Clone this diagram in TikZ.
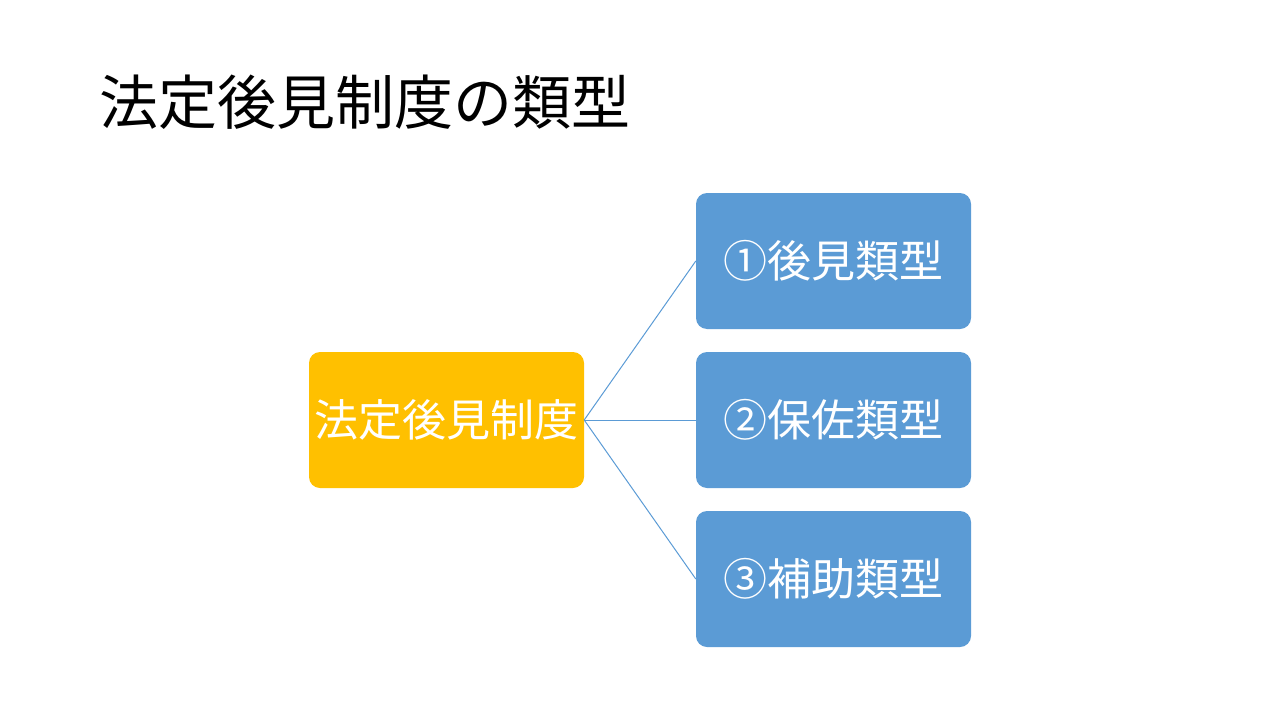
\documentclass[tikz,border=0pt]{standalone}
\usepackage{fontspec}
\setmainfont{Noto Sans CJK JP}
\usepackage{tikz}
\definecolor{boxblue}{RGB}{91,155,213}
\definecolor{boxorange}{RGB}{255,192,0}

\begin{document}
\begin{tikzpicture}[x=1pt,y=-1pt,
  typebox/.style={rounded corners=11pt,minimum width=275pt,minimum height=136pt,inner sep=0pt,text=white,font=\fontsize{44}{52}\selectfont}]
\useasboundingbox (0,0) rectangle (1280,720);
\node[anchor=base west,inner sep=0pt,font=\fontsize{59}{66}\selectfont] (title) at (99,124) {法定後見制度の類型};
\node[typebox,fill=boxorange] (seido) at (446.5,420) {法定後見制度};
\node[typebox,fill=boxblue] (kouken) at (833.5,261) {①後見類型};
\node[typebox,fill=boxblue] (hosa) at (833.5,420) {②保佐類型};
\node[typebox,fill=boxblue] (hojo) at (833.5,579) {③補助類型};
\draw[boxblue,line width=1pt] (seido.east)--(kouken.west);
\draw[boxblue,line width=1pt] (seido.east)--(hosa.west);
\draw[boxblue,line width=1pt] (seido.east)--(hojo.west);
\end{tikzpicture}
\end{document}
